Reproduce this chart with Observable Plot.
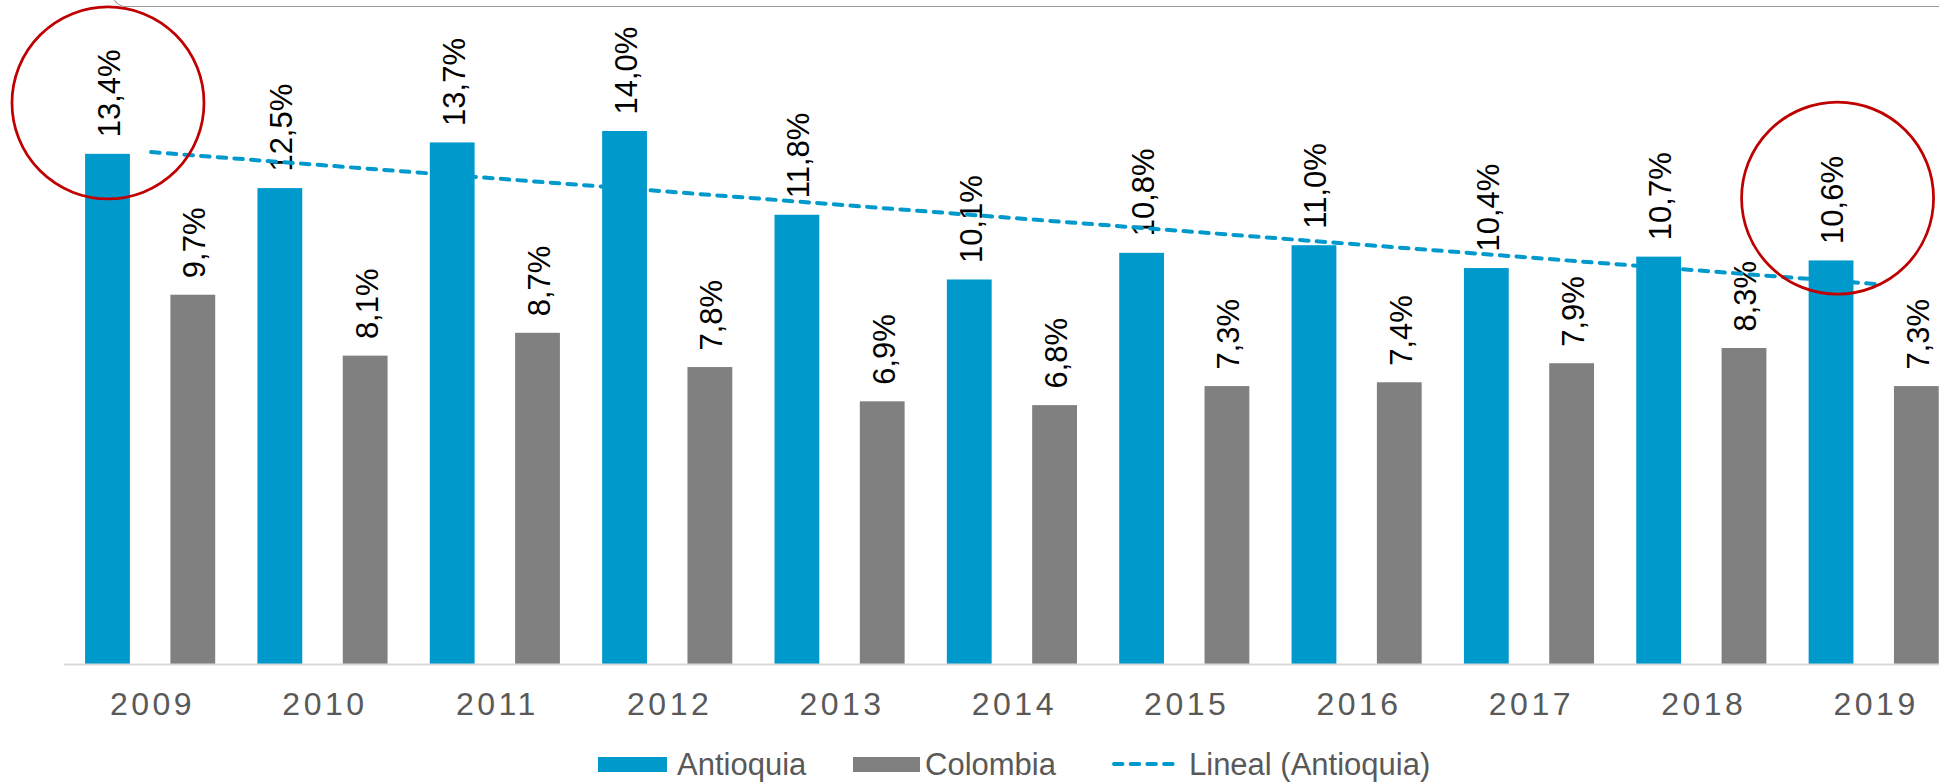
<!DOCTYPE html>
<html>
<head>
<meta charset="utf-8">
<script src="https://cdn.jsdelivr.net/npm/d3@7"></script>
<script src="https://cdn.jsdelivr.net/npm/@observablehq/plot@0.6"></script>
<style>
  html, body { margin: 0; padding: 0; background: #fff; overflow: hidden; }
  #wrap { position: relative; width: 1939px; height: 782px; font-family: "Liberation Sans", Arial, sans-serif; }
  #frameline { position: absolute; left: 112px; top: -20px; width: 2000px; height: 26px;
    border-left: 1.7px solid #9a9a9a; border-bottom: 1.7px solid #9a9a9a; border-bottom-left-radius: 14px; }
  #legend { position: absolute; left: 0; top: 749px; width: 1939px; height: 34px;
    font-size: 31px; line-height: 31px; color: #595959; white-space: nowrap; }
  #legend > * { position: absolute; }
  .sw { height: 15px; top: 8px; }
</style>
</head>
<body>
<div id="wrap">
  <div id="chart"></div>
  <div id="frameline"></div>
  <div id="legend"></div>
</div>
<script>
// ---- data ----
const years = [2009, 2010, 2011, 2012, 2013, 2014, 2015, 2016, 2017, 2018, 2019];
const antioquia = [13.4, 12.5, 13.7, 14.0, 11.8, 10.1, 10.8, 11.0, 10.4, 10.7, 10.6];
const colombia = [9.7, 8.1, 8.7, 7.8, 6.9, 6.8, 7.3, 7.4, 7.9, 8.3, 7.3];
const seriesNames = ["Antioquia", "Colombia"];
const trendName = "Lineal (Antioquia)";
// highlighted points (annotation circles, in data units)
const highlightX = [2008.75, 2018.785];
const highlightY = [14.75, 12.25];

// ---- styling ----
const colors = {Antioquia: "#0099cc", Colombia: "#808080"};
const offset = {Antioquia: -0.25, Colombia: 0.245};
const halfW = 0.13;

const rows = [];
years.forEach((y, i) => {
  rows.push({year: y, series: "Antioquia", value: antioquia[i]});
  rows.push({year: y, series: "Colombia", value: colombia[i]});
});
const antRows = rows.filter(d => d.series === "Antioquia");
const highlights = highlightX.map((x, i) => ({x, y: highlightY[i]}));
const fmt = v => v.toFixed(1).replace(".", ",") + "%";

const chart = Plot.plot({
  width: 1939,
  height: 735,
  marginTop: 131,
  marginBottom: 71,
  marginLeft: 64,
  marginRight: 0,
  style: {fontFamily: "'Liberation Sans', Arial, sans-serif", background: "white", color: "#595959", overflow: "visible"},
  x: {type: "linear", domain: [2008.5, 2019.5], range: [64.4, 1960.3]},
  y: {domain: [0, 14], axis: null},
  marks: [
    Plot.rectY(rows, {
      x1: d => d.year + offset[d.series] - halfW,
      x2: d => d.year + offset[d.series] + halfW,
      y1: 0, y2: "value",
      fill: d => colors[d.series]
    }),
    Plot.ruleY([0], {stroke: "#d9d9d9", strokeWidth: 2}),
    Plot.axisX({ticks: years, tickSize: 0, tickPadding: 28, tickFormat: d => String(d), fontSize: 32, label: null}),
    Plot.text(rows, {
      x: d => d.year + offset[d.series],
      y: "value",
      text: d => fmt(d.value),
      rotate: -90,
      textAnchor: "start",
      lineAnchor: "middle",
      dy: -17,
      dx: 2,
      fontSize: 31,
      fill: "#000"
    }),
    Plot.linearRegressionY(antRows, {
      x: "year", y: "value", ci: 0,
      stroke: "#0099cc", strokeWidth: 4, strokeDasharray: "8.5,8.2", strokeLinecap: "round"
    }),
    Plot.dot(highlights, {x: "x", y: "y", r: 96, stroke: "#c00000", strokeWidth: 2.75, fill: "none"})
  ]
});
document.getElementById("chart").appendChild(chart);
d3.select(chart).selectAll("g[aria-label='x-axis tick label']")
  .attr("font-size", 32).style("font-size", "32px");
d3.select(chart).selectAll("g[aria-label='x-axis tick label'] text")
  .attr("letter-spacing", "3.5px").attr("dx", "1.5px");

// ---- legend ----
const legend = document.getElementById("legend");
legend.innerHTML = `
  <span class="sw" style="left:598px;width:69px;background:${colors.Antioquia};"></span>
  <span style="left:677px;top:0;">${seriesNames[0]}</span>
  <span class="sw" style="left:853px;width:67px;background:${colors.Colombia};"></span>
  <span style="left:925px;top:0;">${seriesNames[1]}</span>
  <svg width="72" height="10" style="left:1111px;top:10px;"><line x1="3" y1="5" x2="69" y2="5" stroke="#0099cc" stroke-width="4" stroke-dasharray="8.5,8.2" stroke-linecap="round"/></svg>
  <span style="left:1189px;top:0;">${trendName}</span>`;
</script>
</body>
</html>
